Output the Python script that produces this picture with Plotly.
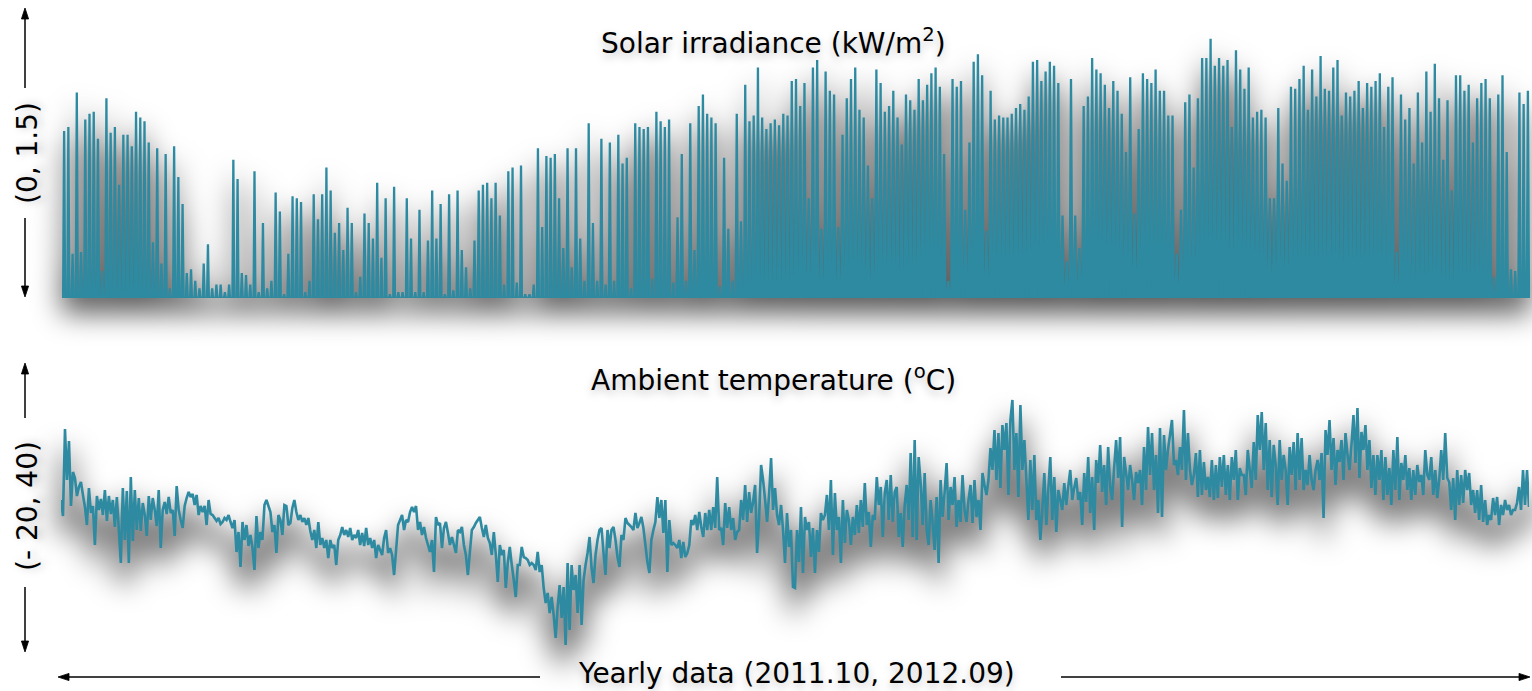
import plotly.graph_objects as go

# ---------------- data ----------------
# daily peak solar irradiance (kW/m2), three consecutive stretches of the year
solar_peaks_part1 = [
    0.87, 0.89, 0.23, 1.07, 0.24, 0.93, 0.96, 0.97, 0.83, 0.14,
    1.04, 0.86, 0.89, 0.59, 0.85, 0.85, 0.79, 0.97, 0.94, 0.92,
    0.81, 0.29, 0.78, 0.18, 0.75, 0.05, 0.79, 0.63, 0.49, 0.13,
    0.15, 0.09, 0.05, 0.18, 0.28, 0.05, 0.07, 0.07, 0.03, 0.07,
    0.72, 0.62, 0.13, 0.12, 0.07, 0.66, 0.03, 0.39, 0.05, 0.09,
    0.55, 0.45, 0.02, 0.23, 0.53, 0.52, 0.50, 0.03, 0.09, 0.54,
    0.41, 0.54, 0.68, 0.56, 0.34, 0.39, 0.25, 0.47, 0.39, 0.03,
    0.11, 0.44, 0.39, 0.31, 0.60, 0.21, 0.52, 0.02, 0.58, 0.03,
    0.03, 0.52, 0.31, 0.03, 0.46, 0.03, 0.30, 0.56, 0.31, 0.49,
    0.02, 0.54, 0.04, 0.56, 0.25, 0.16, 0.05, 0.30, 0.56, 0.59,
    0.60, 0.52, 0.60, 0.43, 0.07, 0.66, 0.68, 0.08, 0.69,
]
solar_peaks_part2 = [
    0.02, 0.02, 0.07, 0.78, 0.37, 0.74, 0.73, 0.75, 0.52, 0.26,
    0.78, 0.16, 0.78, 0.31, 0.09, 0.91, 0.39, 0.09, 0.83, 0.07,
    0.81, 0.09, 0.85, 0.70, 0.73, 0.05, 0.91, 0.89, 0.88, 0.89,
    0.10, 0.97, 0.92, 0.89, 0.93, 0.08, 0.42, 0.75, 0.09, 0.91,
    0.25, 1.00, 1.06, 0.96, 0.94, 0.91, 0.06, 0.73, 0.36, 0.09,
    0.96, 0.40, 1.11, 0.92, 0.95, 1.20, 0.94, 0.88, 0.91, 0.93,
    0.90, 0.96, 0.95, 1.13, 1.14, 1.00, 1.12, 0.52, 1.20, 1.24,
    0.36, 1.18, 1.08, 1.06, 0.37, 0.85, 1.04, 1.14, 1.20, 0.98,
    0.94, 0.69, 0.52, 1.19, 1.12, 0.97, 1.00, 1.08, 0.94, 0.80,
    1.06, 1.03, 0.98, 1.14, 1.03, 1.11, 1.17, 1.20, 1.10, 0.75,
    0.09, 1.14, 1.10, 1.13, 0.46, 0.81, 1.23, 1.27, 1.16, 0.35,
    1.08, 0.93, 0.95, 0.94, 0.94, 0.96, 0.99, 1.01,
]
solar_peaks_part3 = [
    0.98, 1.05, 1.23, 1.24, 1.13, 1.18, 1.23, 1.21, 1.12, 0.43,
    0.19, 1.14, 0.43, 0.26, 1.00, 1.05, 1.25, 1.19, 1.17, 1.11,
    0.99, 1.13, 1.08, 0.96, 0.76, 1.15, 0.44, 0.88, 1.17, 1.14,
    1.12, 1.19, 1.08, 1.08, 0.95, 0.95, 0.23, 0.46, 1.02, 1.06,
    0.68, 1.04, 1.25, 1.25, 1.35, 1.21, 1.25, 1.21, 1.24, 0.89,
    1.29, 1.19, 1.09, 1.20, 0.94, 0.97, 0.98, 0.94, 0.52, 0.52,
    0.99, 0.70, 0.61, 1.10, 1.09, 1.14, 1.21, 0.98, 1.19, 1.05,
    1.26, 1.09, 1.08, 1.20, 1.24, 0.95, 1.07, 1.05, 1.08, 1.13,
    0.99, 1.12, 1.10, 1.13, 1.17, 0.89, 1.10, 1.15, 0.24, 1.06,
    0.93, 0.99, 0.70, 1.07, 0.81, 1.18, 0.97, 1.22, 1.04, 0.72,
    1.03, 0.56, 1.16, 1.16, 1.08, 1.11, 0.81, 1.04, 1.12, 1.14,
    1.04, 0.11, 1.06, 1.16, 0.76, 0.15, 0.14, 1.07, 1.01, 1.08,
]
# approximate day length (hours), Oct .. Sep
daylight_hours = [11.3, 10.2, 9.6, 9.9, 10.9, 12.0, 13.1, 14.1, 14.6, 14.3, 13.4, 12.3]

# ambient temperature (deg C), consecutive samples through the year
temp_part1 = [
    10, 6.8, 24.2, 14, 21.8, 8.8, 15.6, 14.4, 10.8, 12.6, 13.6, 11, 8.6, 5, 12.4, 7.4, 8.8, 1,
    10.8, 8, 10.2, 7, 12, 5.8, 10.8, 7.2, 10, 4.6,
    10.6, 4, -2.6, 12.4, 2, 11.8, -2.6, 14.6, 1.8, 12, 4, 10.4, 3.8, 9.4, 7, 2.8, 10.8, 6,
    10.4, 8, 4.8, 12, 0.4, 8, 9.6, 7.2, 10.6, 7.4, 8, 2.8, 12.8, 8, 6, 4.4, 8.8, 10.4, 11.6,
    10.6, 11.2, 9, 11, 7, 8.8, 7.6, 8.8, 5, 10, 7.2, 7, 6.4, 5.8, 6.4, 5.2, 5.6, 6.4, 6, 7,
    5.6, 4.4, 6, -0.4, 3.6, -3.4, 5.6, 2, 5, 0.8, 3, 0.4, -4, 6.8, 0.4, 3.6, 2, 9, 10, 8.8,
    7.6, 3.6, 5, -0.6, 7, 6, 3, 9, 8.8, 5, 5.4, 8.4, 10, 7.6, 6, 7, 5.6, 6.4, 5, 6.4, 3.8, 2,
    4, 0.4, 5.6, 1, 2.4, 0.4, 2, -1.6, 2, 0.4, 1, -3, 2, 3, 4.6, 3, 4, 2.6, 4.4, 2, 3, 2.4,
    4, 1, 3.4, 0.8, 4.4, 1, 2.4, 0.4, 2, -1.6, 1, 0, -1, 2.4, 4, -0.6, 0.4, -1, -5, 0, 5, 6,
    7, 4, 6, 5.6, 7.6, 8.6, 7.6, 8.8, 4, 5.6, 3, 4.6, 2.4, 1, -0.4,
]
temp_part2 = [
    2, -4.4, 6.6, 5, 5.4, 0.4, 4.4, 5.6, 3.4, 1, 2.6, 1, -0.6, 4, 3.6, 4.6, 1, -1, -5, -0.4,
    4, 4.6, 5.4, 6, 6.6, 4.4, 2.6, 5, 2.4, 1.4, -1, 3.6, -1, -6.4, 1, -1, 0, -7.6, -2.6, 0.6,
    -3, -6, -9.4, -3, -3, 0.6, -1.4, -1.6, -2, -3, -2.6, -3, -4, -0.4, -4.4, -3, -7.6, -10.6,
    -8.6, -12.6, -9.4, -13, -17.6, -11.4, -7, -13.6, -7.4, -19, -2.6, -16, -3, -8, -5, -12.6,
    -3, -15, -6, -3, -0.6, 2.6, -3.6, -6.6, -1, 2, 4, 4.4, -0.6, -5, 4, 0.4, 4, 4.6, 2, -1.4,
    -3.4, 3, 2, 6.4, 5.4, 5, 4.6, 4, 7.4, 4.4, 5.4, 6.6, 4.4, 1, -2.4, -4.6, 2, 4, 5.6, 10.6,
    6.4, 10, 3.4, 10, -4.4, 6, 1, 1.4, 1, 0.4, 2, -1.6, 1.6, -1.4, -0.6, 1, 6, 5, 7, 4, 7.6,
    4.6, 2.6, 7.4, 4, 8, 4, 8.6, 4.4, 14.6, 4, 4.4, 1, 9.4, 4.4, 8.6, 4, 6.4, 2, 3.6, 4, 10,
    6, 13, 5.6, 11.6, 7.4, 9.6, 13, -0.6, 6.4, 17, 14, 10, 5.6, 11, 18.4, 8, 12.4, 7, 5, 9, 4,
    -2.6, 7.4, 0.6, 4, -7.4,
]
temp_part3 = [
    -7.6, 4, -2.4, 8.6, -4.6, 6.6, 4, 5.6, -1.4, 4.4, -4.6, 4, -0.4, 7.4, 6, 7, 11, 4, 14, -1,
    11.4, 4, 6.6, -2.6, 10, 1.4, 8, 6, 1, 6.6, 3, 9, 3.4, 10, 4.6, 13.4, 5, 7.6, 0.6, 7, 6,
    14.6, 9, 12.6, 2.6, 11.4, 14, 6, 15, 5.6, 11.6, 12.6, 2.6, 7.4, 0.6, 9, 13, 6, 19.4, 2.6,
    22, 2, 18.6, 13.4, 5, 15.4, 4, 1, 10, 5.4, 0, 10.6, -2.6, 14, 6.6, 11.4, 17.4, 6, 12.6, 9,
    14.6, 4.6, 10, 5.6, 15, 8, 5.6, 10, 13, 5.4, 14, 6.6, 10, 4, 15.4, 13, 11, 14, 20.4, 16,
    24, 14, 23.4, 12.4, 25, 20, 25.4, 11, 26, 30, 16, 23.4, 10.6, 29, 16, 22, 14, 6, 18, 8, 19,
    6, 10, 2, 8, 15.4, 5, 12, 18.6, 6, 14.6, 3.6, 12, 10, 8, 13.4, 9, 12.6, 16, 10, 12.4, 14.4,
    10, 11.6, 5, 15.4, 9.6, 18.6, 7.4, 14.6, 4, 18, 13.4, 21, 11.6, 17, 9, 20.6, 12.6, 10, 16.4,
    22, 14.4, 22.6, 4.6, 18.6, 15.4, 12, 17, 14, 10, 15.6, 13.4, 16, 9, 20.6, 12, 24.6, 15,
    23.4, 12, 19,
]
temp_part4 = [
    7.4, 24.4, 6.6, 23, 16, 20, 23, 26, 17, 18, 15, 20.6, 16, 28, 14, 23.4, 16, 13, 15, 19.4,
    10.6, 20, 11, 17.6, 12, 14.6, 10.6, 18, 10, 17, 10.4, 18.6, 12.6, 19, 11, 17, 10, 18.6, 14,
    20, 10, 16.4, 15, 15, 11, 20, 16, 12.4, 21.6, 14, 27, 20, 27.6, 16, 25.4, 12, 22, 10.6, 21,
    17, 9, 22, 14, 19, 16, 9, 20.6, 15, 21.6, 12, 23.4, 14, 22.4, 12, 16, 13, 19, 14, 12, 16,
    18, 14, 19.4, 6.4, 24, 19, 26, 16, 22.4, 13, 20, 17.6, 22, 14, 23.4, 19, 16, 21, 27, 17.4,
    28.4, 14.4, 23.6, 20, 25, 16, 22, 12.4, 19, 11, 19, 14, 20, 10, 18.6, 11, 16.4, 9, 20, 12,
    22.6, 10, 17.4, 14, 19, 12, 16.4, 10, 16, 11, 17, 13.6, 15, 11, 20, 15, 14, 18.6, 11, 16,
    10.4, 14, 20, 14, 23.4, 14.4, 13.6, 8, 14.4, 6, 16, 9, 15, 9.4, 16, 12, 15.4, 9, 12, 7.4,
    12, 6, 13, 5.6, 10, 5, 7, 6, 10.4, 7, 10.6, 5, 9, 7, 10, 8, 9, 7, 8, 8, 9.4, 12.6, 8, 16,
    9, 16, 8.6,
]

# ---------------- build series ----------------
solar_peaks = solar_peaks_part1 + solar_peaks_part2 + solar_peaks_part3
n_days = len(solar_peaks)
solar_x, solar_y = [], []
for i, peak in enumerate(solar_peaks):
    month = min(11, int(i * 12 / n_days))
    half = daylight_hours[month] / 48.0  # half of the daylit fraction of a day
    solar_x += [i - half, i, i + half]
    solar_y += [0.0, peak, 0.0]

temps = temp_part1 + temp_part2 + temp_part3 + temp_part4
temp_x = list(range(len(temps)))

TEAL = "#2d8aa1"
W, H = 1532, 691


def px_x(p):
    return p / W


def px_y(p):
    return 1 - p / H


fig = go.Figure()

# ---- drop shadows (own subplots drawn first; blurred in the page) ----
fig.add_trace(go.Scatter(x=solar_x, y=solar_y, mode="lines", xaxis="x", yaxis="y",
                         fill="tozeroy", fillcolor="rgba(0,0,0,0.62)",
                         line=dict(color="rgba(0,0,0,0.5)", width=4, simplify=False),
                         hoverinfo="skip", showlegend=False))
fig.add_trace(go.Scatter(x=temp_x, y=temps, mode="lines", xaxis="x2", yaxis="y2",
                         line=dict(color="rgba(0,0,0,0.5)", width=11, simplify=False),
                         hoverinfo="skip", showlegend=False))

# ---- main series ----
fig.add_trace(go.Scatter(x=solar_x, y=solar_y, mode="lines", xaxis="x3", yaxis="y3",
                         fill="tozeroy", fillcolor=TEAL,
                         line=dict(color=TEAL, width=2.3, simplify=False),
                         hoverinfo="skip", showlegend=False))
fig.add_trace(go.Scatter(x=temp_x, y=temps, mode="lines", xaxis="x4", yaxis="y4",
                         line=dict(color=TEAL, width=2.6, simplify=False),
                         hoverinfo="skip", showlegend=False))

# pixel geometry of the plotting areas
S_L, S_R = 62, 1530          # solar x extent
T_L, T_R = 61, 1529          # temperature x extent
solar_xr = [-0.5, n_days - 0.5]
temp_xr = [0, len(temps) - 1]
s_upp = (solar_xr[1] - solar_xr[0]) / (S_R - S_L)   # units per pixel
t_upp = (temp_xr[1] - temp_xr[0]) / (T_R - T_L)

axis_off = dict(visible=False, showgrid=False, zeroline=False, fixedrange=True)

# solar: 192 px per kW/m2, baseline at y=298 px; shadow shifted down
s_off = 14
s_base = 298 + s_off
# temperature: 5 px per degree, -20 at y=650 px; shadow shifted down
t_off = 20
t_base = 650 + t_off

fig.update_layout(
    width=W, height=H, margin=dict(l=0, r=0, t=0, b=0),
    paper_bgcolor="white", plot_bgcolor="rgba(0,0,0,0)",
    # shadow subplots span the whole width so the blur is not cut
    xaxis=dict(domain=[0, 1], range=[solar_xr[0] - S_L * s_upp, solar_xr[1] + (W - S_R) * s_upp],
               **axis_off),
    yaxis=dict(domain=[px_y(352), 1], range=[-(352 - s_base) / 192, s_base / 192], **axis_off),
    xaxis2=dict(domain=[0, 1], range=[temp_xr[0] - T_L * t_upp, temp_xr[1] + (W - T_R) * t_upp],
                **axis_off),
    yaxis2=dict(domain=[0, px_y(318)],
                range=[-20 - (691 - t_base) / 5, -20 + (t_base - 318) / 5], **axis_off),
    xaxis3=dict(domain=[px_x(S_L), px_x(S_R)], range=solar_xr, **axis_off),
    yaxis3=dict(domain=[px_y(298), px_y(10)], range=[0, 1.5], **axis_off),
    xaxis4=dict(domain=[px_x(T_L), px_x(T_R)], range=temp_xr, **axis_off),
    yaxis4=dict(domain=[px_y(650), px_y(350)], range=[-20, 40], **axis_off),
)

FONT = "DejaVu Sans"
txt = dict(family=FONT, size=28, color="black", shadow="0px 4px 9px rgba(0,0,0,0.25)")

annotations = [
    dict(text="Solar irradiance (kW/m<sup>2</sup>)", x=px_x(773), y=px_y(41)),
    dict(text="Ambient temperature (<sup>o</sup>C)", x=px_x(773), y=px_y(378)),
    dict(text="Yearly data (2011.10, 2012.09)", x=px_x(796), y=px_y(673)),
    dict(text="(0, 1.5)", x=px_x(27), y=px_y(153), textangle=-90),
    dict(text="(- 20, 40)", x=px_x(27), y=px_y(506), textangle=-90),
]
for a in annotations:
    a.update(xref="paper", yref="paper", showarrow=False, font=txt,
             xanchor="center", yanchor="middle")
fig.update_layout(annotations=annotations)

# arrows drawn as shapes: (head_x, head_y, tail_x, tail_y) in pixels
arrows = [
    (25, 8, 25, 88), (25, 297, 25, 218),
    (25, 363, 25, 418), (25, 652, 25, 587),
    (58, 677, 540, 677), (1530, 677, 1061, 677),
]
HEAD_L, HEAD_HW = 11, 3.6
shapes = []
for hx, hy, tx, ty in arrows:
    dx, dy = tx - hx, ty - hy
    ln = (dx * dx + dy * dy) ** 0.5
    ux, uy = dx / ln, dy / ln          # unit vector head -> tail
    bx, by = hx + ux * HEAD_L, hy + uy * HEAD_L
    shapes.append(dict(type="line", xref="paper", yref="paper",
                       x0=px_x(tx), y0=px_y(ty), x1=px_x(bx), y1=px_y(by),
                       line=dict(color="black", width=1.5)))
    p1 = (bx - uy * HEAD_HW, by + ux * HEAD_HW)
    p2 = (bx + uy * HEAD_HW, by - ux * HEAD_HW)
    path = (f"M {px_x(hx)},{px_y(hy)} L {px_x(p1[0])},{px_y(p1[1])} "
            f"L {px_x(p2[0])},{px_y(p2[1])} Z")
    shapes.append(dict(type="path", xref="paper", yref="paper", path=path,
                       fillcolor="black", line=dict(color="black", width=0.8)))
fig.update_layout(shapes=shapes)

# soft blur for the drop-shadow subplots
post_js = """
var gd = document.getElementById('{plot_id}');
var svg = gd.querySelector('.main-svg');
var ns = 'http://www.w3.org/2000/svg';
var defs = svg.querySelector('defs');
if (!defs) { defs = document.createElementNS(ns, 'defs'); svg.insertBefore(defs, svg.firstChild); }
[['shadowBlurSolar', 14], ['shadowBlurTemp', 14]].forEach(function (p) {
  if (document.getElementById(p[0])) return;
  var f = document.createElementNS(ns, 'filter');
  f.setAttribute('id', p[0]);
  f.setAttribute('x', '-10%'); f.setAttribute('y', '-70%');
  f.setAttribute('width', '120%'); f.setAttribute('height', '240%');
  var b = document.createElementNS(ns, 'feGaussianBlur');
  b.setAttribute('stdDeviation', p[1]);
  f.appendChild(b); defs.appendChild(f);
});
var g1 = gd.querySelector('.subplot.xy .scatterlayer');
var g2 = gd.querySelector('.subplot.x2y2 .scatterlayer');
if (g1) g1.setAttribute('filter', 'url(#shadowBlurSolar)');
if (g2) g2.setAttribute('filter', 'url(#shadowBlurTemp)');
"""

fig.write_html("out.html", post_script=post_js)
